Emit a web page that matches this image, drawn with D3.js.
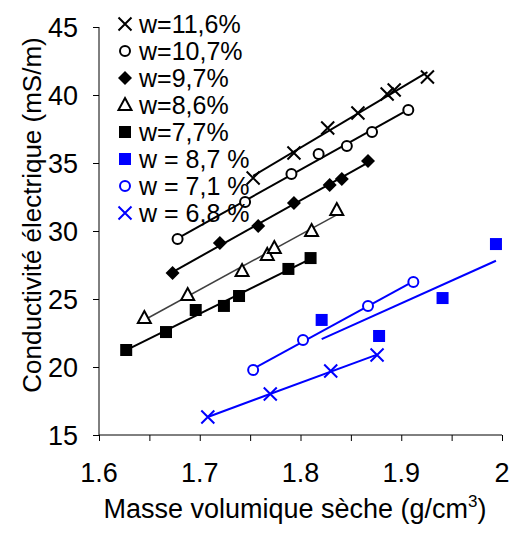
<!DOCTYPE html>
<html><head><meta charset="utf-8">
<script src="https://cdn.jsdelivr.net/npm/d3@7"></script>
<style>
html,body{margin:0;padding:0;background:#fff;}
svg{display:block;font-family:"Liberation Sans",Arial,sans-serif;}
</style></head>
<body><svg id="c" width="511" height="538"></svg>
<script>
// ---- data ----
const labels = ["w=11,6%","w=10,7%","w=9,7%","w=8,6%","w=7,7%","w = 8,7 %","w = 7,1 %","w = 6,8 %"];
const x116 = [1.753,1.7935,1.827,1.857,1.886,1.893,1.926];
const y116 = [33.9,35.74,37.57,38.68,40.07,40.37,41.32];
const x107 = [1.678,1.745,1.791,1.818,1.846,1.871,1.907];
const y107 = [29.41,32.13,34.19,35.66,36.25,37.28,38.9];
const x97 = [1.673,1.720,1.758,1.7935,1.829,1.841,1.867];
const y97 = [26.91,29.12,30.37,32.06,33.38,33.82,35.15];
const x86 = [1.645,1.688,1.742,1.767,1.774,1.811,1.836];
const y86 = [23.6,25.29,27.06,28.24,28.75,30.0,31.54];
const x77 = [1.627,1.6665,1.696,1.724,1.739,1.788,1.810];
const y77 = [21.25,22.57,24.19,24.49,25.22,27.21,28.01];
const x87 = [1.821,1.878,1.941,1.994];
const y87 = [23.46,22.28,25.07,29.04];
const x71 = [1.753,1.8025,1.867,1.912];
const y71 = [19.78,21.99,24.49,26.25];
const x68 = [1.708,1.770,1.830,1.876];
const y68 = [16.32,18.01,19.71,20.88];
const xTicks = [1.6,1.65,1.7,1.75,1.8,1.85,1.9,1.95,2.0];
const xLabels = ["1.6","1.7","1.8","1.9","2"];
const yTicks = [15,20,25,30,35,40,45];

const series = [
  {xs:x116, ys:y116, sym:"x", color:"#000", line:"#000"},
  {xs:x107, ys:y107, sym:"circle", color:"#000", line:"#000"},
  {xs:x97, ys:y97, sym:"diamond", color:"#000", line:"#000"},
  {xs:x86, ys:y86, sym:"triangle", color:"#000", line:"#404040"},
  {xs:x77, ys:y77, sym:"square", color:"#000", line:"#000"},
  {xs:x87, ys:y87, sym:"square", color:"#0000ff", line:"#0000ff"},
  {xs:x71, ys:y71, sym:"circle", color:"#0000ff", line:"#0000ff"},
  {xs:x68, ys:y68, sym:"x", color:"#0000ff", line:"#0000ff"}
];

const svg = d3.select("#c");
const x = d3.scaleLinear().domain([1.6,2.0]).range([99,502]);
const y = d3.scaleLinear().domain([15,45]).range([435,27]);

// axes
const xAxis = d3.axisBottom(x).tickValues(xTicks).tickSize(6).tickFormat(() => "");
const gx = svg.append("g").attr("transform","translate(0,435)").call(xAxis);
gx.select(".domain").attr("stroke","#000").attr("d","M99,0H502");
gx.selectAll(".tick line").attr("stroke","#000");
const yAxis = d3.axisLeft(y).tickValues(yTicks).tickSize(6).tickFormat(() => "");
const gy = svg.append("g").attr("transform","translate(99,0)").call(yAxis);
gy.select(".domain").attr("stroke","#000").attr("d","M0,27V435");
gy.selectAll(".tick line").attr("stroke","#000");

// tick labels
svg.append("g").selectAll("text").data(xLabels).join("text")
  .attr("x", d => x(+d)).attr("y", 482)
  .attr("text-anchor","middle").attr("font-size",27).attr("fill","#000")
  .text(d => d);
svg.append("g").selectAll("text").data(yTicks).join("text")
  .attr("x", 78).attr("y", d => y(d) + 9.5)
  .attr("text-anchor","end").attr("font-size",27).attr("fill","#000")
  .text(d => d);

// titles
svg.append("text").attr("transform","translate(41,215) rotate(-90)")
  .attr("text-anchor","middle").attr("font-size",26).attr("fill","#000")
  .text("Conductivité électrique (mS/m)");
const xt = svg.append("text").attr("x",295).attr("y",518)
  .attr("text-anchor","middle").attr("font-size",27).attr("fill","#000");
xt.append("tspan").text("Masse volumique sèche (g/cm");
xt.append("tspan").attr("font-size",17).attr("dy",-11).text("3");
xt.append("tspan").attr("dy",11).text(")");

// regression lines
function reg(xs, ys){
  const mx = d3.mean(xs), my = d3.mean(ys);
  let sxy=0, sxx=0;
  xs.forEach((v,i)=>{ sxy += (v-mx)*(ys[i]-my); sxx += (v-mx)*(v-mx); });
  const b = sxy/sxx, a = my - b*mx;
  const x0 = d3.min(xs), x1 = d3.max(xs);
  return [[x0, a+b*x0],[x1, a+b*x1]];
}
series.forEach(s => {
  const r = reg(s.xs, s.ys);
  svg.append("line")
    .attr("x1", x(r[0][0])).attr("y1", y(r[0][1]))
    .attr("x2", x(r[1][0])).attr("y2", y(r[1][1]))
    .attr("stroke", s.line).attr("stroke-width", s.sym==="triangle"?1.5:2);
});

// markers
function marker(g, sym, color, cx, cy){
  if (sym === "x") {
    const h = 6.5;
    g.append("path").attr("d",`M${cx-h},${cy-h}L${cx+h},${cy+h}M${cx-h},${cy+h}L${cx+h},${cy-h}`)
      .attr("stroke",color).attr("stroke-width",2).attr("fill","none");
  } else if (sym === "circle") {
    g.append("circle").attr("cx",cx).attr("cy",cy).attr("r",5)
      .attr("fill","#fff").attr("stroke",color).attr("stroke-width",2);
  } else if (sym === "diamond") {
    const h = 7;
    g.append("path").attr("d",`M${cx},${cy-h}L${cx+h},${cy}L${cx},${cy+h}L${cx-h},${cy}Z`)
      .attr("fill",color);
  } else if (sym === "triangle") {
    g.append("path").attr("d",`M${cx},${cy-7}L${cx+6.5},${cy+5}L${cx-6.5},${cy+5}Z`)
      .attr("fill","#fff").attr("stroke",color).attr("stroke-width",2);
  } else if (sym === "square") {
    g.append("rect").attr("x",cx-6).attr("y",cy-6).attr("width",12).attr("height",12)
      .attr("fill",color);
  }
}
series.forEach(s => {
  const g = svg.append("g");
  s.xs.forEach((v,i) => marker(g, s.sym, s.color, x(v), y(s.ys[i])));
});

// legend
const rowY = d3.range(labels.length);
const lg = svg.append("g");
rowY.forEach(i => {
  const cy = 24 + i*27;
  marker(lg, series[i].sym, series[i].color, 125, cy);
  lg.append("text").attr("x",139).attr("y",cy+9).attr("font-size",25).attr("fill","#000")
    .text(labels[i]);
});
</script></body></html>
